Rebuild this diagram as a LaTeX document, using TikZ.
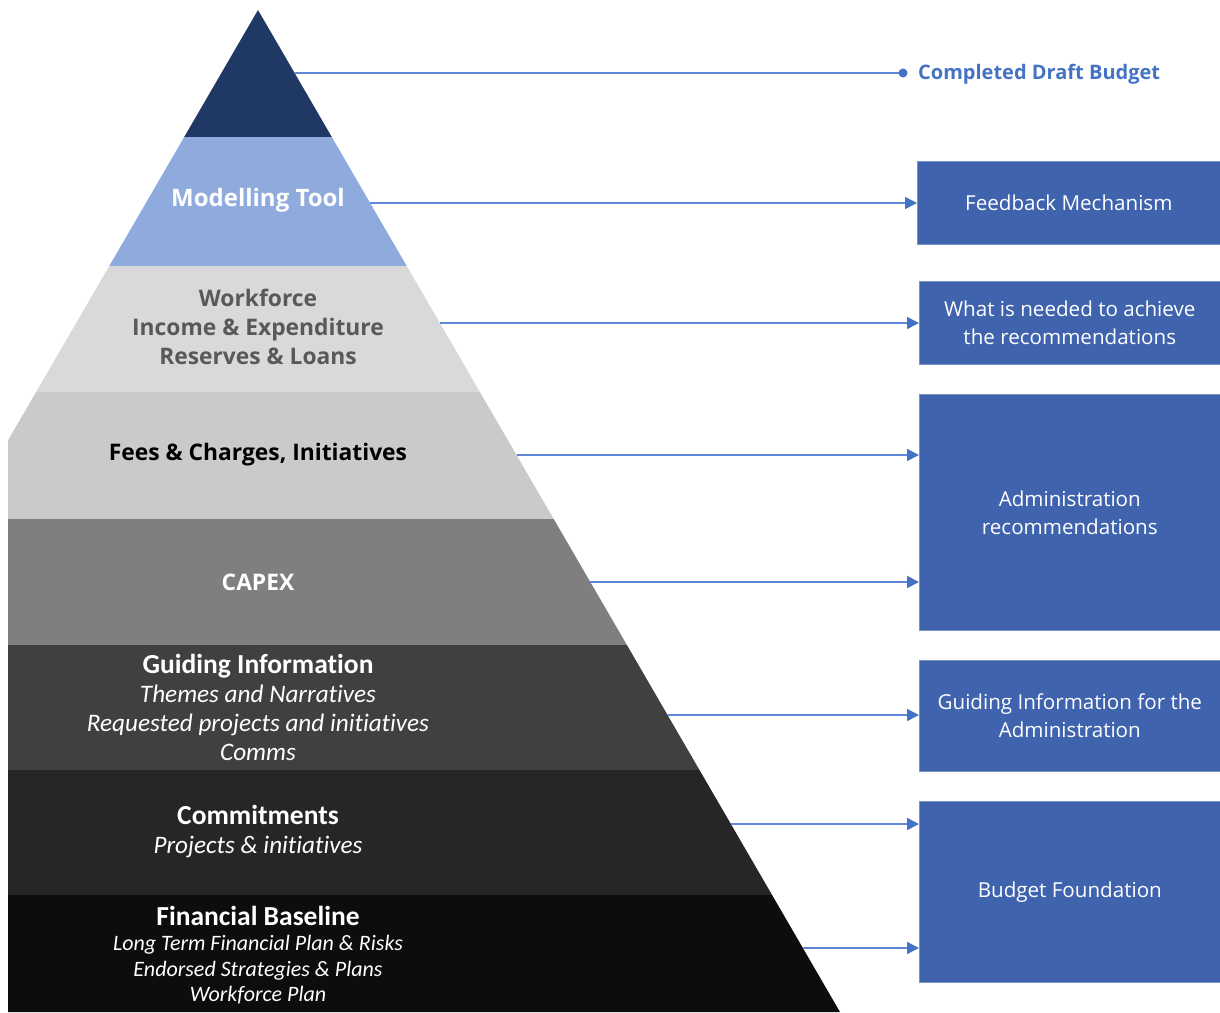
\documentclass[tikz,border=0pt]{standalone}
\usepackage{fontspec}
\setmainfont{Open Sans}
\newfontfamily\calfont[Ligatures=NoCommon]{Carlito}
\usetikzlibrary{arrows.meta,calc}
\definecolor{tipband}{HTML}{203864}
\definecolor{toolband}{HTML}{8FAADC}
\definecolor{workband}{HTML}{D9D9D9}
\definecolor{feeband}{HTML}{CACACA}
\definecolor{capexband}{HTML}{7F7F7F}
\definecolor{guideband}{HTML}{404040}
\definecolor{commitband}{HTML}{262626}
\definecolor{baseband}{HTML}{0D0D0D}
\definecolor{boxblue}{HTML}{3F63AD}
\definecolor{lineblue}{HTML}{5F89D6}
\definecolor{headblue}{HTML}{4472C4}
\definecolor{worktext}{HTML}{595959}

\begin{document}
\begin{tikzpicture}[x=1pt,y=-1pt,
  every node/.style={inner sep=0pt,align=center},
  band/.style={font=\fontsize{22.8}{29}\selectfont\bfseries},
  sidebox/.style={fill=boxblue,draw=boxblue!70!white,line width=0.6pt,anchor=north west},
  boxtext/.style={text=white,font=\fontsize{20.6}{28}\selectfont},
  link/.style={draw=lineblue,line width=1.6pt,-{Triangle[length=12pt,width=12pt,fill=headblue,color=headblue]}}]
\useasboundingbox (0,0) rectangle (1220,1012);
% pyramid bands
\begin{scope}
\clip (8,0) rectangle (1220,1012);
\fill [tipband] (258,10) -- (331.8,137) -- (184.2,137) -- cycle;
\fill [toolband] (184.2,137) -- (331.8,137) -- (406.7,266) -- (109.3,266) -- cycle;
\fill [workband] (109.3,266) -- (406.7,266) -- (479.9,392) -- (36.1,392) -- cycle;
\fill [feeband] (36.1,392) -- (479.9,392) -- (553.7,519) -- (-37.7,519) -- cycle;
\fill [capexband] (-37.7,519) -- (553.7,519) -- (626.9,645) -- (-110.9,645) -- cycle;
\fill [guideband] (-110.9,645) -- (626.9,645) -- (699.5,770) -- (-183.5,770) -- cycle;
\fill [commitband] (-183.5,770) -- (699.5,770) -- (772.1,895) -- (-256.1,895) -- cycle;
\fill [baseband] (-256.1,895) -- (772.1,895) -- (840,1012) -- (-324,1012) -- cycle;
\end{scope}
% band texts
\node [band,text=white,font=\fontsize{24}{29}\selectfont\bfseries] (tool) at (258,200) {Modelling Tool};
\node [band,text=worktext] (work) at (258,327) {Workforce\\Income \& Expenditure\\Reserves \& Loans};
\node [band,text=black] (fees) at (258,455) {Fees \& Charges, Initiatives};
\node [band,text=white] (capex) at (258,582) {CAPEX};
\node [text=white,font=\calfont\fontsize{25.2}{29}\selectfont] (guide) at (258,707)
  {\textbf{\fontsize{27.5}{29}\selectfont Guiding Information}\\\itshape Themes and Narratives\\\itshape Requested projects and initiatives\\\itshape Comms};
\node [text=white,font=\calfont\fontsize{25.2}{29}\selectfont] (commit) at (258,831)
  {\textbf{\fontsize{27.5}{29}\selectfont Commitments}\\\itshape Projects \& initiatives};
\node [text=white,font=\calfont\fontsize{22}{25.5}\selectfont] (base) at (258,955)
  {\textbf{\fontsize{27.5}{27}\selectfont Financial Baseline}\\\itshape Long Term Financial Plan \& Risks\\\itshape Endorsed Strategies \& Plans\\\itshape Workforce Plan};
% side boxes
\node [sidebox,minimum width=303pt,minimum height=83pt] (feedback) at (917,161) {};
\node [boxtext] at (feedback.center) {Feedback Mechanism};
\node [sidebox,minimum width=301pt,minimum height=83pt] (needed) at (919,281) {};
\node [boxtext] at (needed.center) {What is needed to achieve\\the recommendations};
\node [sidebox,minimum width=301pt,minimum height=236pt] (admin) at (919,394) {};
\node [boxtext] at (admin.center) {Administration\\recommendations};
\node [sidebox,minimum width=301pt,minimum height=111pt] (guideadmin) at (919,660) {};
\node [boxtext] at (guideadmin.center) {Guiding Information for the\\Administration};
\node [sidebox,minimum width=301pt,minimum height=181pt] (foundation) at (919,801) {};
\node [boxtext] at (foundation.center) {Budget Foundation};
% edge points
\coordinate (e0) at (294.6,73);
\coordinate (e1) at (370.1,203);
\coordinate (e2) at (439.9,323);
\coordinate (e3) at (516.5,455);
\coordinate (e4) at (590.3,582);
\coordinate (e5) at (667.6,715);
\coordinate (e6) at (730.9,824);
\coordinate (e7) at (803.0,948);
\coordinate (dot) at (903,73);
% connectors
\draw [draw=lineblue,line width=1.6pt] (e0) -- (dot);
\fill [headblue] (dot) circle (4.5);
\node [anchor=west,text=headblue,font=\fontsize{20}{24}\selectfont\bfseries] (draft) at (918,74.5) {Completed Draft Budget};
\draw [link] (e1) -- (e1 -| feedback.west);
\draw [link] (e2) -- (e2 -| needed.west);
\draw [link] (e3) -- (e3 -| admin.west);
\draw [link] (e4) -- (e4 -| admin.west);
\draw [link] (e5) -- (e5 -| guideadmin.west);
\draw [link] (e6) -- (e6 -| foundation.west);
\draw [link] (e7) -- (e7 -| foundation.west);
\end{tikzpicture}
\end{document}
